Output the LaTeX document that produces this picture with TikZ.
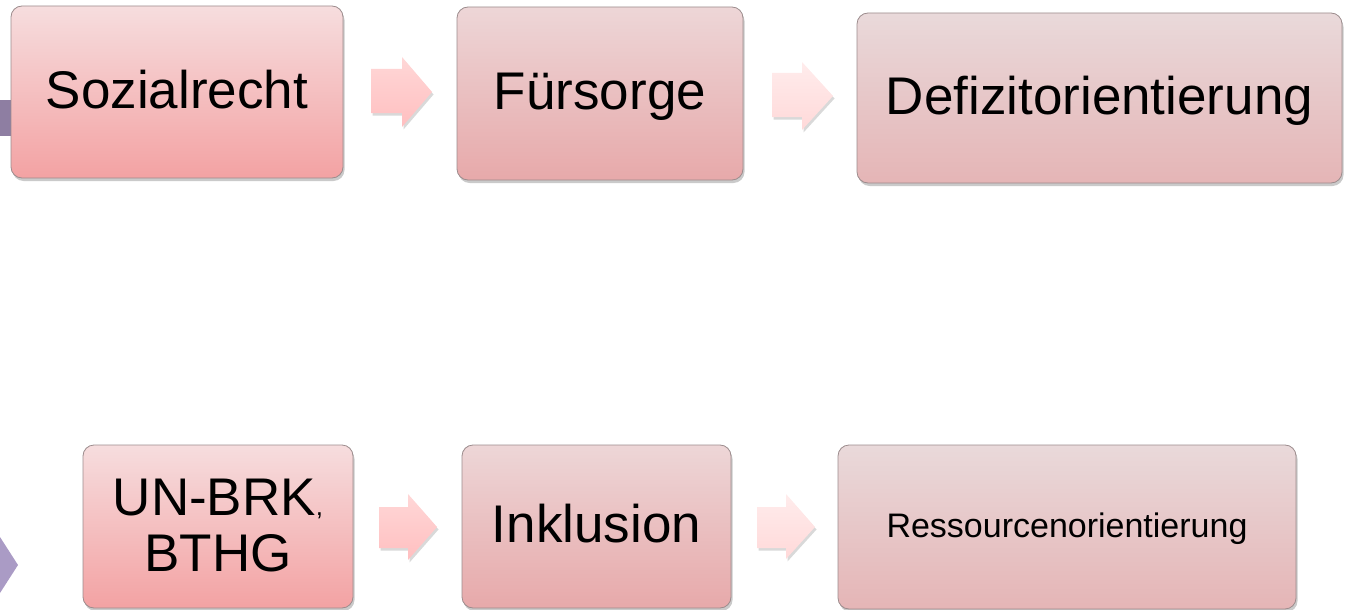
\documentclass[tikz,border=0pt]{standalone}
\usepackage{fontspec}
\setmainfont{Liberation Sans}
\usetikzlibrary{shadows}
\definecolor{boxAtop}{HTML}{F6DDDE}
\definecolor{boxAbot}{HTML}{F3A2A3}
\definecolor{boxBtop}{HTML}{EDD6D7}
\definecolor{boxBbot}{HTML}{E7A9AA}
\definecolor{boxCtop}{HTML}{E9D9DA}
\definecolor{boxCbot}{HTML}{E5B5B6}
\definecolor{arrAtop}{HTML}{FFD7D7}
\definecolor{arrAbot}{HTML}{FFBFC0}
\definecolor{arrBtop}{HTML}{FFECEC}
\definecolor{arrBbot}{HTML}{FFD9D9}
\definecolor{edgegray}{HTML}{9C8C8D}
\definecolor{purpleA}{HTML}{8E7EA2}
\definecolor{purpleB}{HTML}{AA9BC5}
\tikzset{
  box/.style={draw=edgegray, line width=0.8pt, rounded corners=11pt,
    inner sep=0pt, align=center,
    drop shadow={shadow xshift=1.5pt, shadow yshift=-3pt, opacity=0.35, fill=black!60},
    font=\fontsize{53}{56}\selectfont, text height=37pt, text depth=5pt},
  boxA/.style={box, top color=boxAtop, bottom color=boxAbot},
  boxB/.style={box, top color=boxBtop, bottom color=boxBbot},
  boxC/.style={box, top color=boxCtop, bottom color=boxCbot},
  blockarrow/.style={draw=none,
    drop shadow={shadow xshift=1.5pt, shadow yshift=-2.5pt, opacity=0.25, fill=black!60}},
  arrowA/.style={blockarrow, top color=arrAtop, bottom color=arrAbot},
  arrowB/.style={blockarrow, top color=arrBtop, bottom color=arrBbot},
}
\begin{document}
\begin{tikzpicture}[x=1pt, y=-1pt]
\useasboundingbox (0,0) rectangle (1345,610);
% purple decorations at the left edge
\fill[purpleA] (0,100) rectangle (19,136);
\fill[purpleB] (0,537) -- (18,565) -- (0,593) -- cycle;
% top row
\node[boxA, minimum width=332pt, minimum height=172pt] (soz) at (177,92) {Sozialrecht};
\node[boxB, minimum width=286pt, minimum height=173pt] (fue) at (600,93.5) {Fürsorge};
\node[boxC, minimum width=485pt, minimum height=170pt] (def) at (1099.5,98) {Defizitorientierung};
% bottom row
\node[boxA, minimum width=270pt, minimum height=163pt, text height=90pt, text depth=1pt] (unb) at (218,526.5)
  {UN-BRK{\fontsize{26}{26}\selectfont,}\\BTHG};
\node[boxB, minimum width=269pt, minimum height=163pt] (ink) at (596.5,526.5) {Inklusion};
\node[boxC, minimum width=458pt, minimum height=164pt, font=\fontsize{34}{36}\selectfont,
  text height=24pt, text depth=3.6pt] (res) at (1067,527) {Ressourcenorientierung};
% block arrows
\path[arrowA] (371,69) -- (402,69) -- (402,57) -- (432,92) -- (402,127) -- (402,113) -- (371,113) -- cycle;
\path[arrowB] (772,73) -- (802,73) -- (802,62) -- (833,96) -- (802,130) -- (802,117) -- (772,117) -- cycle;
\path[arrowA] (379,507) -- (408,507) -- (408,494) -- (437,527) -- (408,560) -- (408,548) -- (379,548) -- cycle;
\path[arrowB] (757,507) -- (786,507) -- (786,494) -- (815,527) -- (786,559) -- (786,548) -- (757,548) -- cycle;
\end{tikzpicture}
\end{document}
